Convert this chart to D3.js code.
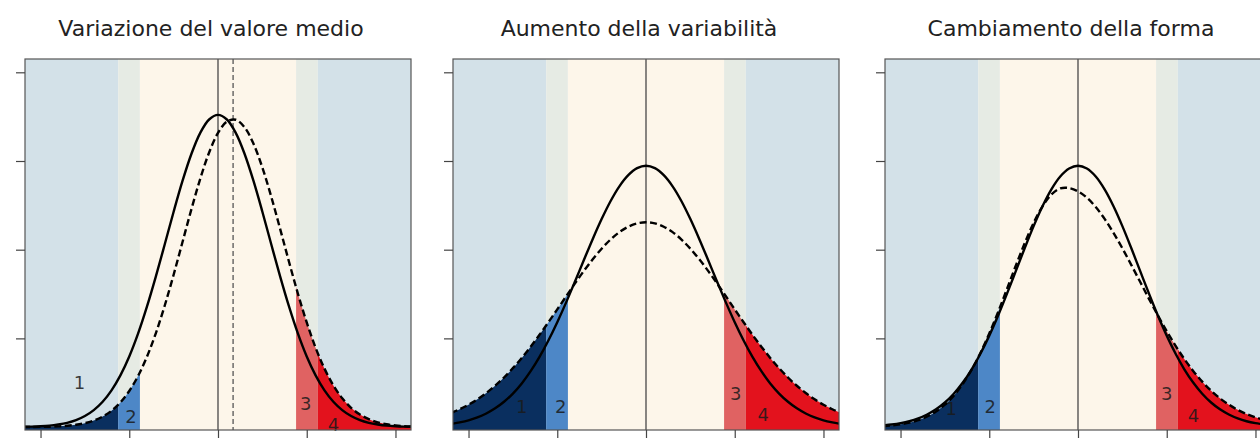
<!DOCTYPE html>
<html><head><meta charset="utf-8">
<script src="https://cdn.jsdelivr.net/npm/d3@7"></script>
<style>body{margin:0;background:#fff}svg{display:block}</style>
</head><body><svg id="c" width="1260" height="438"></svg>
<script>
// ---------- data ----------
const titles = ["Variazione del valore medio", "Aumento della variabilità", "Cambiamento della forma"];
const xGrid = [-2.2,-2.1,-2.0,-1.9,-1.8,-1.7,-1.6,-1.5,-1.4,-1.3,-1.2,-1.1,-1.0,-0.9,-0.8,-0.7,-0.6,-0.5,-0.4,-0.3,-0.2,-0.1,0.0,
  0.1,0.2,0.3,0.4,0.5,0.6,0.7,0.8,0.9,1.0,1.1,1.2,1.3,1.4,1.5,1.6,1.7,1.8,1.9,2.0,2.1,2.2];
// panel 1: shift of the mean
const solid1 = [0.0003,0.0005,0.0009,0.0016,0.0029,0.0048,0.0078,0.0124,0.0191,0.0285,0.0414,0.0583,0.0796,0.1056,0.1360,0.1699,0.2061,0.2428,0.2775,0.3079,0.3317,0.3468,0.352,
  0.3468,0.3317,0.3079,0.2775,0.2428,0.2061,0.1699,0.1360,0.1056,0.0796,0.0583,0.0414,0.0285,0.0191,0.0124,0.0078,0.0048,0.0029,0.0016,0.0009,0.0005,0.0003];
const dashed1 = [0.0001,0.0001,0.0002,0.0004,0.0008,0.0015,0.0026,0.0044,0.0073,0.0118,0.0184,0.0278,0.0407,0.0578,0.0795,0.1060,0.1371,0.1718,0.2086,0.2455,0.2800,0.3096,0.3316,
  0.3444,0.3465,0.3379,0.3194,0.2926,0.2598,0.2235,0.1864,0.1506,0.1180,0.0895,0.0659,0.0470,0.0325,0.0217,0.0141,0.0089,0.0054,0.0032,0.0018,0.0010,0.0006];
// panel 2: increase of variability
const solid2 = [0.0035,0.0053,0.0076,0.0109,0.0153,0.0211,0.0285,0.0378,0.0492,0.0630,0.0791,0.0976,0.1182,0.1406,0.1642,0.1883,0.2121,0.2345,0.2546,0.2714,0.2840,0.2919,0.2946,
  0.2919,0.2840,0.2714,0.2546,0.2345,0.2121,0.1883,0.1642,0.1406,0.1182,0.0976,0.0791,0.0630,0.0492,0.0378,0.0285,0.0211,0.0153,0.0109,0.0076,0.0053,0.0035];
const dashed2 = [0.0158,0.0201,0.0252,0.0313,0.0384,0.0466,0.0559,0.0664,0.0780,0.0906,0.1040,0.1182,0.1327,0.1475,0.1620,0.1761,0.1892,0.2011,0.2114,0.2198,0.2259,0.2297,0.2310,
  0.2297,0.2259,0.2198,0.2114,0.2011,0.1892,0.1761,0.1620,0.1475,0.1327,0.1182,0.1040,0.0906,0.0780,0.0664,0.0559,0.0466,0.0384,0.0313,0.0252,0.0201,0.0158];
// panel 3: change of shape
const solid3 = [0.0018,0.0029,0.0044,0.0066,0.0098,0.0142,0.0200,0.0277,0.0376,0.0499,0.0649,0.0827,0.1031,0.1258,0.1504,0.1761,0.2019,0.2266,0.2490,0.2680,0.2825,0.2915,0.2946,
  0.2915,0.2825,0.2680,0.2490,0.2266,0.2019,0.1761,0.1504,0.1258,0.1031,0.0827,0.0649,0.0499,0.0376,0.0277,0.0200,0.0142,0.0098,0.0066,0.0044,0.0029,0.0018];
const dashed3 = [0.0011,0.0019,0.0032,0.0050,0.0078,0.0119,0.0175,0.0252,0.0354,0.0484,0.0644,0.0835,0.1055,0.1299,0.1558,0.1822,0.2075,0.2302,0.2489,0.2622,0.2691,0.2695,0.2658,
  0.2586,0.2481,0.2347,0.2190,0.2016,0.1829,0.1638,0.1446,0.1259,0.1081,0.0916,0.0765,0.0630,0.0512,0.0410,0.0324,0.0253,0.0194,0.0147,0.0110,0.0081,0.0059];
const bandEdges = [-1.125, -0.88, 0.88, 1.125];
const xTicks = [-2, -1, 0, 1, 2];
const yTicks = [0.1, 0.2, 0.3, 0.4];
const shiftedMean = 0.17;
const regionNames = ["1", "2", "3", "4"];
const labelX1 = [-1.56, -0.98, 0.99, 1.30], labelY1 = [0.049, 0.010, 0.025, 0.001];
const labelX2 = [-1.40, -0.96, 1.01, 1.32], labelY2 = [0.0215, 0.0215, 0.036, 0.0125];
const labelX3 = [-1.43, -0.99, 1.00, 1.30], labelY3 = [0.019, 0.0215, 0.036, 0.0114];

// ---------- styling / layout ----------
const panelLeft = [25, 453, 885], panelW = 386, plotTop = 59, plotBottom = 430;
const bgColors = ["#d3e1e8", "#e6ebe4", "#fdf6ea", "#e6ebe4", "#d3e1e8"];
const fillColors = ["#0a2f5f", "#4d87c7", "#e06262", "#e3121d"];
const xDomain = [-2.175, 2.175];
const yDomain = [-0.0033, 0.415];

const panels = [
  {title: titles[0], solid: solid1, dashed: dashed1, lx: labelX1, ly: labelY1, mean: shiftedMean},
  {title: titles[1], solid: solid2, dashed: dashed2, lx: labelX2, ly: labelY2, mean: null},
  {title: titles[2], solid: solid3, dashed: dashed3, lx: labelX3, ly: labelY3, mean: null}
];

const svg = d3.select("#c");
const defs = svg.append("defs");

panels.forEach((p, i) => {
  const x = d3.scaleLinear().domain(xDomain).range([panelLeft[i], panelLeft[i] + panelW]);
  const y = d3.scaleLinear().domain(yDomain).range([plotBottom, plotTop]);
  const g = svg.append("g");
  const clipId = "clip" + i;
  defs.append("clipPath").attr("id", clipId).append("rect")
    .attr("x", x(xDomain[0])).attr("y", plotTop).attr("width", panelW).attr("height", plotBottom - plotTop);

  const edges = [xDomain[0], ...bandEdges, xDomain[1]];
  g.selectAll("rect.bg").data(d3.range(5)).join("rect")
    .attr("x", k => x(edges[k])).attr("width", k => x(edges[k + 1]) - x(edges[k]))
    .attr("y", plotTop).attr("height", plotBottom - plotTop).attr("fill", k => bgColors[k]);

  const pts = xGrid.map((v, k) => [v, p.solid[k]]);
  const dpts = xGrid.map((v, k) => [v, p.dashed[k]]);
  const line = d3.line().x(d => x(d[0])).y(d => y(d[1])).curve(d3.curveCatmullRom.alpha(0.5));
  const area = d3.area().x(d => x(d[0])).y0(y(yDomain[0])).y1(d => y(d[1])).curve(d3.curveCatmullRom.alpha(0.5));

  const tailBands = [[xDomain[0], bandEdges[0]], [bandEdges[0], bandEdges[1]], [bandEdges[2], bandEdges[3]], [bandEdges[3], xDomain[1]]];
  tailBands.forEach((b, k) => {
    const cid = "tail" + i + "_" + k;
    defs.append("clipPath").attr("id", cid).append("rect")
      .attr("x", x(b[0])).attr("y", plotTop).attr("width", x(b[1]) - x(b[0])).attr("height", plotBottom - plotTop);
    g.append("path").attr("d", area(dpts)).attr("fill", fillColors[k]).attr("clip-path", `url(#${cid})`);
  });

  const inner = g.append("g").attr("clip-path", `url(#${clipId})`);
  inner.append("line").attr("x1", x(0)).attr("x2", x(0)).attr("y1", plotTop).attr("y2", plotBottom)
    .attr("stroke", "#3a3a3a").attr("stroke-width", 1.2);
  if (p.mean !== null) {
    inner.append("line").attr("x1", x(p.mean)).attr("x2", x(p.mean)).attr("y1", plotTop).attr("y2", plotBottom)
      .attr("stroke", "#555").attr("stroke-width", 1.3).attr("stroke-dasharray", "5,3");
  }
  inner.append("path").attr("d", line(pts)).attr("fill", "none").attr("stroke", "#000").attr("stroke-width", 2.4);
  inner.append("path").attr("d", line(dpts)).attr("fill", "none").attr("stroke", "#000").attr("stroke-width", 2.4)
    .attr("stroke-dasharray", "7,3.5");

  g.selectAll("text.lab").data(regionNames).join("text")
    .attr("x", (d, k) => x(p.lx[k])).attr("y", (d, k) => y(p.ly[k]))
    .attr("text-anchor", "middle").attr("dominant-baseline", "middle")
    .attr("font-family", "DejaVu Sans, sans-serif").attr("font-size", 18)
    .attr("fill", "#1a1a1a").attr("fill-opacity", 0.85).text(d => d);

  g.append("rect").attr("x", x(xDomain[0])).attr("y", plotTop).attr("width", panelW).attr("height", plotBottom - plotTop)
    .attr("fill", "none").attr("stroke", "#555").attr("stroke-width", 1.2);

  const ya = g.append("g").attr("transform", `translate(${x(xDomain[0])},0)`)
    .call(d3.axisLeft(y).tickValues(yTicks).tickFormat("").tickSize(9).tickSizeOuter(0));
  const xa = g.append("g").attr("transform", `translate(0,${plotBottom})`)
    .call(d3.axisBottom(x).tickValues(xTicks).tickFormat("").tickSize(9).tickSizeOuter(0));
  [ya, xa].forEach(a => { a.select(".domain").remove(); a.selectAll("line").attr("stroke", "#444").attr("stroke-width", 1.2); });

  g.append("text").attr("x", x(0) - 7).attr("y", 36).attr("text-anchor", "middle")
    .attr("font-family", "DejaVu Sans, sans-serif").attr("font-size", 22).attr("fill", "#222")
    .text(p.title);
});
</script></body></html>
